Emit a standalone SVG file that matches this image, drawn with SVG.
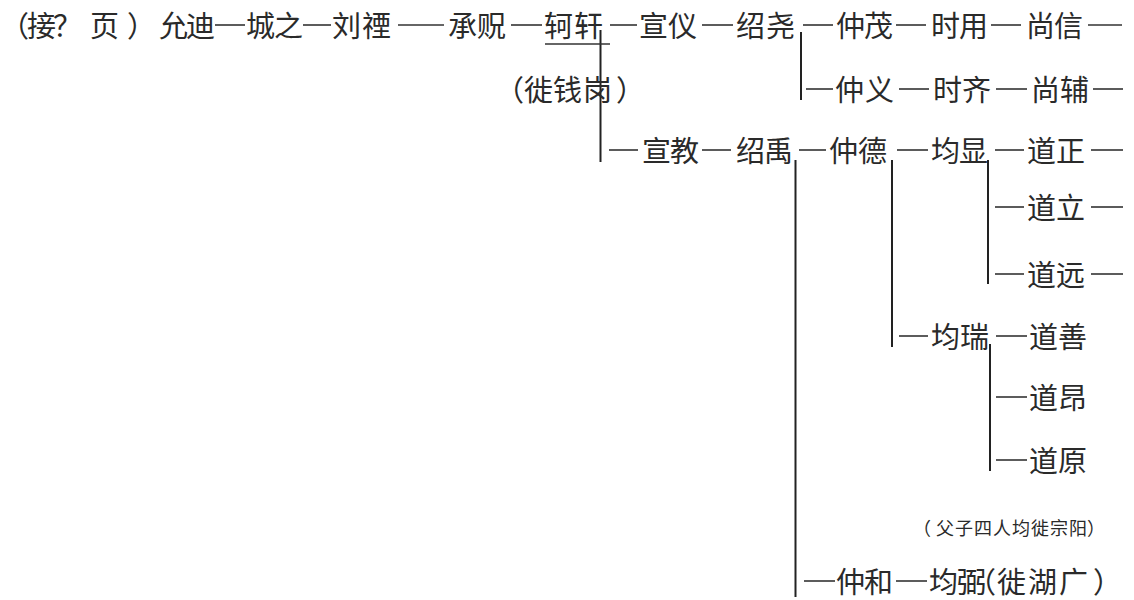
<svg xmlns="http://www.w3.org/2000/svg" width="1134" height="600" viewBox="0 0 1134 600">
<style>
.t{font-family:"Noto Sans CJK SC","Noto Sans CJK TC",sans-serif;font-size:29px;fill:#2a2a2a}
.s{font-size:18px}
.c line{stroke:#222;stroke-width:2;fill:none}
.c line.d{stroke:#333;stroke-width:1.6}
.u{stroke:#333;stroke-width:1.5}
</style>
<rect width="1134" height="600" fill="#ffffff"/>
<g id="connectors" class="c">
<line class="d" x1="215" y1="25" x2="245" y2="25"/>
<line class="d" x1="303" y1="25" x2="331" y2="25"/>
<line class="d" x1="398" y1="25" x2="444" y2="25"/>
<line class="d" x1="511" y1="25" x2="542" y2="25"/>
<line class="d" x1="610" y1="25" x2="637" y2="25"/>
<line class="d" x1="702" y1="25" x2="733" y2="25"/>
<line class="d" x1="803" y1="25" x2="833" y2="25"/>
<line class="d" x1="896" y1="25" x2="926" y2="25"/>
<line class="d" x1="991" y1="25" x2="1021" y2="25"/>
<line class="d" x1="1088" y1="25" x2="1122" y2="25"/>
<line x1="600.5" y1="30" x2="600.5" y2="162"/>
<line x1="801" y1="32" x2="801" y2="100"/>
<line class="d" x1="806" y1="89" x2="833" y2="89"/>
<line class="d" x1="899" y1="89" x2="929" y2="89"/>
<line class="d" x1="996" y1="89" x2="1027" y2="89"/>
<line class="d" x1="1093" y1="89" x2="1123" y2="89"/>
<line class="d" x1="609" y1="150" x2="638" y2="150"/>
<line class="d" x1="702" y1="150" x2="731" y2="150"/>
<line class="d" x1="799" y1="150" x2="826" y2="150"/>
<line class="d" x1="897" y1="150" x2="928" y2="150"/>
<line class="d" x1="995" y1="150" x2="1024" y2="150"/>
<line class="d" x1="1091" y1="150" x2="1123" y2="150"/>
<line x1="795.5" y1="160" x2="795.5" y2="597"/>
<line x1="892" y1="160" x2="892" y2="347"/>
<line x1="988" y1="160" x2="988" y2="284"/>
<line class="d" x1="995" y1="207" x2="1024" y2="207"/>
<line class="d" x1="1091" y1="207" x2="1123" y2="207"/>
<line class="d" x1="995" y1="274" x2="1024" y2="274"/>
<line class="d" x1="1091" y1="274" x2="1123" y2="274"/>
<line class="d" x1="899" y1="336" x2="928" y2="336"/>
<line class="d" x1="996" y1="336" x2="1027" y2="336"/>
<line x1="990" y1="344" x2="990" y2="471"/>
<line class="d" x1="996" y1="397" x2="1027" y2="397"/>
<line class="d" x1="996" y1="460" x2="1027" y2="460"/>
<line class="d" x1="804" y1="581" x2="835" y2="581"/>
<line class="d" x1="896" y1="581" x2="927" y2="581"/>
</g>
<g id="n-header"><text class="t" x="0 27 53 90 127" y="37">（接？页）</text></g>
<g id="n-yundi"><text class="t" x="159 186" y="37">允迪</text></g>
<g id="n-chengzhi"><text class="t" x="246 274" y="37">城之</text></g>
<g id="n-liuyin"><text class="t" x="332 362" y="37">刘禋</text></g>
<g id="n-chengkuang"><text class="t" x="448 477" y="37">承贶</text></g>
<g id="n-kexuan"><text class="t" x="544 574" y="37">轲轩</text><line class="u" x1="545" y1="44" x2="610" y2="44"/></g>
<g id="n-xuanyi"><text class="t" x="639 668" y="37">宣仪</text></g>
<g id="n-shaoyao"><text class="t" x="736 766" y="37">绍尧</text></g>
<g id="n-zhongmao"><text class="t" x="836 864" y="37">仲茂</text></g>
<g id="n-shiyong"><text class="t" x="931 959" y="37">时用</text></g>
<g id="n-shangxin"><text class="t" x="1026 1054" y="37">尚信</text></g>
<g id="n-note-qiangang"><text class="t" x="495 524 553 583 616" y="101">（徙钱岗）</text></g>
<g id="n-zhongyi"><text class="t" x="835 865" y="101">仲义</text></g>
<g id="n-shiqi"><text class="t" x="933 962" y="101">时齐</text></g>
<g id="n-shangfu"><text class="t" x="1031 1060" y="101">尚辅</text></g>
<g id="n-xuanjiao"><text class="t" x="642 670" y="162">宣教</text></g>
<g id="n-shaoyu"><text class="t" x="736 764" y="162">绍禹</text></g>
<g id="n-zhongde"><text class="t" x="829 858" y="162">仲德</text></g>
<g id="n-junxian"><text class="t" x="931 959" y="162">均显</text></g>
<g id="n-daozheng"><text class="t" x="1027 1056" y="162">道正</text></g>
<g id="n-daoli"><text class="t" x="1027 1056" y="219">道立</text></g>
<g id="n-daoyuan"><text class="t" x="1027 1056" y="286">道远</text></g>
<g id="n-junrui"><text class="t" x="931 960" y="348">均瑞</text></g>
<g id="n-daoshan"><text class="t" x="1029 1058" y="348">道善</text></g>
<g id="n-daoang"><text class="t" x="1029 1058" y="409">道昂</text></g>
<g id="n-daoyuan2"><text class="t" x="1029 1058" y="472">道原</text></g>
<g id="n-note-zongyang"><text class="t s" x="913 936 955 974 993 1012 1031 1050 1069 1087" y="535">（父子四人均徙宗阳）</text></g>
<g id="n-zhonghe"><text class="t" x="836 864" y="593">仲和</text></g>
<g id="n-junbi"><text class="t" x="929 957 967 997 1028 1059 1093" y="593">均弼（徙湖广）</text></g>
</svg>
